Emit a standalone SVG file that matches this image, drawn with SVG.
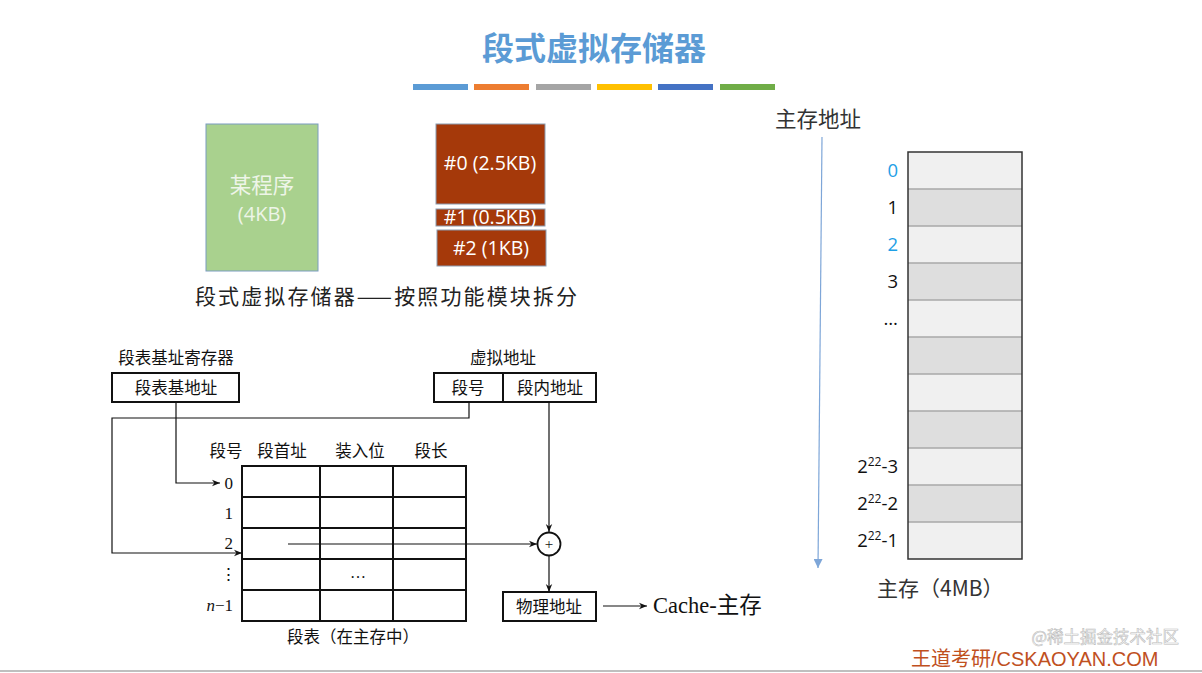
<svg xmlns="http://www.w3.org/2000/svg" width="1202" height="673" viewBox="0 0 1202 673">
<defs>
<style>
.cjk{font-family:"Noto Sans CJK SC","Noto Sans",sans-serif;}
.ser{font-family:"Liberation Serif","Noto Sans CJK SC",serif;}
.lbl{font-family:"Open Sans","Noto Sans CJK SC",sans-serif;font-size:18.5px;fill:#111;}
.b{fill:#fff;stroke:#111;stroke-width:2;}
.tl{stroke:#111;stroke-width:2;fill:none;}
.ln{stroke:#111;stroke-width:1.2;fill:none;}
.t15{font-size:16.5px;fill:#111;}
.seg{fill:#A5390A;stroke:#8a9bb0;stroke-width:1;}
.segt{font-family:"Open Sans","Noto Sans",sans-serif;font-size:19.5px;fill:#fff;text-anchor:middle;}
</style>
<marker id="ah" viewBox="0 0 10 10" refX="10" refY="5" markerWidth="10" markerHeight="8" orient="auto" markerUnits="userSpaceOnUse">
<path d="M0,1 L10,5 L0,9 L3,5 z" fill="#111"/>
</marker>
<marker id="ahb" viewBox="0 0 10 10" refX="10" refY="5" markerWidth="10" markerHeight="9" orient="auto" markerUnits="userSpaceOnUse">
<path d="M0,0 L10,5 L0,10 z" fill="#7ea6d8"/>
</marker>
</defs>
<rect width="1202" height="673" fill="#fff"/>

<g id="title">
<text x="594" y="60" class="cjk" font-size="32" font-weight="bold" fill="#5B9BD5" text-anchor="middle">段式虚拟存储器</text>
<rect x="413" y="84" width="55" height="6" fill="#5B9BD5"/>
<rect x="474" y="84" width="55" height="6" fill="#ED7D31"/>
<rect x="536" y="84" width="55" height="6" fill="#A5A5A5"/>
<rect x="597" y="84" width="55" height="6" fill="#FFC000"/>
<rect x="658" y="84" width="55" height="6" fill="#4472C4"/>
<rect x="720" y="84" width="55" height="6" fill="#70AD47"/>
</g>

<g id="program">
<rect x="206" y="124" width="112" height="147" fill="#A9D18E" stroke="#7a9cc0" stroke-width="1"/>
<text x="262" y="193" class="cjk" font-size="21.5" fill="#eef5e8" text-anchor="middle">某程序</text>
<text x="262" y="221" font-family="Open Sans,Noto Sans,sans-serif" font-size="20" fill="#eef5e8" text-anchor="middle">(4KB)</text>
</g>

<g id="seg0">
<rect x="436" y="124" width="109" height="80" class="seg"/>
<text x="490" y="170" class="segt">#0 (2.5KB)</text>
</g>
<g id="seg1">
<rect x="436" y="209" width="109" height="17" class="seg"/>
<text x="490" y="224" class="segt">#1 (0.5KB)</text>
</g>
<g id="seg2">
<rect x="437" y="230" width="109" height="36" class="seg"/>
<text x="491" y="255" class="segt">#2 (1KB)</text>
</g>
<text x="195" y="304" class="cjk" font-size="21" fill="#222" textLength="382" lengthAdjust="spacing">段式虚拟存储器——按照功能模块拆分</text>

<g id="seg-reg">
<text x="176" y="364" class="cjk t15" text-anchor="middle">段表基址寄存器</text>
<rect x="112" y="373" width="127" height="29" class="b"/>
<text x="176" y="394" class="cjk t15" text-anchor="middle">段表基地址</text>
</g>

<g id="vaddr">
<text x="503" y="364" class="cjk t15" text-anchor="middle">虚拟地址</text>
<rect x="434" y="373" width="162" height="29" class="b"/>
<line x1="503" y1="373" x2="503" y2="402" class="tl"/>
<text x="468" y="394" class="cjk t15" text-anchor="middle">段号</text>
<text x="550" y="394" class="cjk t15" text-anchor="middle">段内地址</text>
</g>

<g id="seg-table">
<text x="226" y="457" class="cjk t15" text-anchor="middle">段号</text>
<text x="282" y="457" class="cjk t15" text-anchor="middle">段首址</text>
<text x="360" y="457" class="cjk t15" text-anchor="middle">装入位</text>
<text x="431" y="457" class="cjk t15" text-anchor="middle">段长</text>
<rect x="242" y="466" width="224" height="155" class="tl"/>
<line x1="320" y1="466" x2="320" y2="621" class="tl"/>
<line x1="393" y1="466" x2="393" y2="621" class="tl"/>
<line x1="242" y1="497" x2="466" y2="497" class="tl"/>
<line x1="242" y1="528" x2="466" y2="528" class="tl"/>
<line x1="242" y1="559" x2="466" y2="559" class="tl"/>
<line x1="242" y1="590" x2="466" y2="590" class="tl"/>
<text x="233" y="489" class="ser" font-size="17" fill="#111" text-anchor="end">0</text>
<text x="233" y="519" class="ser" font-size="17" fill="#111" text-anchor="end">1</text>
<text x="233" y="549" class="ser" font-size="17" fill="#111" text-anchor="end">2</text>
<text x="228" y="580" class="ser" font-size="17" fill="#111" text-anchor="middle">⋮</text>
<text x="233" y="611" class="ser" font-size="17" fill="#111" text-anchor="end"><tspan font-style="italic">n</tspan>−1</text>
<text x="358" y="578" class="ser" font-size="16" fill="#111" text-anchor="middle">…</text>
<text x="353" y="643" class="cjk t15" text-anchor="middle">段表（在主存中）</text>
</g>

<g id="adder">
<circle cx="549" cy="544" r="11.5" fill="#fff" stroke="#111" stroke-width="1.8"/>
<text x="549" y="549" class="ser" font-size="15" fill="#111" text-anchor="middle">+</text>
</g>

<g id="paddr">
<rect x="503" y="592" width="93" height="29" class="b"/>
<text x="549" y="613" class="cjk t15" text-anchor="middle">物理地址</text>
</g>
<text x="653" y="613" class="ser" font-size="22.5" fill="#111">Cache-主存</text>

<g id="connectors">
<polyline points="176,402 176,483 220,483" class="ln" marker-end="url(#ah)"/>
<polyline points="469,402 469,418 112,418 112,553 242,553" class="ln" marker-end="url(#ah)"/>
<line x1="288" y1="544" x2="537" y2="544" class="ln" marker-end="url(#ah)"/>
<line x1="549" y1="402" x2="549" y2="532" class="ln" marker-end="url(#ah)"/>
<line x1="549" y1="556" x2="549" y2="592" class="ln" marker-end="url(#ah)"/>
<line x1="603" y1="606" x2="647" y2="606" class="ln" marker-end="url(#ah)"/>
<line x1="822" y1="137" x2="818" y2="568" stroke="#7ea6d8" stroke-width="1.2" marker-end="url(#ahb)"/>
</g>

<g id="memory">
<text x="775" y="127" class="cjk" font-size="21.5" fill="#333">主存地址</text>
<rect x="908" y="152" width="114" height="37" fill="#f0f0f0"/>
<rect x="908" y="189" width="114" height="37" fill="#dedede"/>
<rect x="908" y="226" width="114" height="37" fill="#f0f0f0"/>
<rect x="908" y="263" width="114" height="37" fill="#dedede"/>
<rect x="908" y="300" width="114" height="37" fill="#f0f0f0"/>
<rect x="908" y="337" width="114" height="37" fill="#dedede"/>
<rect x="908" y="374" width="114" height="37" fill="#f0f0f0"/>
<rect x="908" y="411" width="114" height="37" fill="#dedede"/>
<rect x="908" y="448" width="114" height="37" fill="#f0f0f0"/>
<rect x="908" y="485" width="114" height="37" fill="#dedede"/>
<rect x="908" y="522" width="114" height="37" fill="#f0f0f0"/>
<g stroke="#a8a8a8" stroke-width="1.5">
<line x1="908" y1="189" x2="1022" y2="189"/>
<line x1="908" y1="226" x2="1022" y2="226"/>
<line x1="908" y1="263" x2="1022" y2="263"/>
<line x1="908" y1="300" x2="1022" y2="300"/>
<line x1="908" y1="337" x2="1022" y2="337"/>
<line x1="908" y1="374" x2="1022" y2="374"/>
<line x1="908" y1="411" x2="1022" y2="411"/>
<line x1="908" y1="448" x2="1022" y2="448"/>
<line x1="908" y1="485" x2="1022" y2="485"/>
<line x1="908" y1="522" x2="1022" y2="522"/>
</g>
<rect x="908" y="152" width="114" height="407" fill="none" stroke="#333" stroke-width="1.5"/>
<text x="898" y="177" class="lbl" text-anchor="end" style="fill:#1ea0e6">0</text>
<text x="898" y="214" class="lbl" text-anchor="end">1</text>
<text x="898" y="251" class="lbl" text-anchor="end" style="fill:#1ea0e6">2</text>
<text x="898" y="288" class="lbl" text-anchor="end">3</text>
<text x="898" y="325" class="lbl" text-anchor="end">…</text>
<text x="898" y="473" class="lbl" text-anchor="end">2<tspan font-size="12" dy="-7">22</tspan><tspan dy="7">-3</tspan></text>
<text x="898" y="510" class="lbl" text-anchor="end">2<tspan font-size="12" dy="-7">22</tspan><tspan dy="7">-2</tspan></text>
<text x="898" y="547" class="lbl" text-anchor="end">2<tspan font-size="12" dy="-7">22</tspan><tspan dy="7">-1</tspan></text>
<text x="877" y="596" class="cjk" font-size="21" fill="#333">主存（4MB）</text>
</g>

<g id="footer">
<text x="1179" y="643" class="cjk" font-size="16.5" fill="#fff" stroke="#bbb" stroke-width="0.6" text-anchor="end">@稀土掘金技术社区</text>
<text x="911" y="666" font-family="Liberation Sans,Noto Sans CJK SC,sans-serif" font-size="20" fill="#C0501E">王道考研/CSKAOYAN.COM</text>
<line x1="0" y1="671" x2="1202" y2="671" stroke="#aaa" stroke-width="1.5"/>
</g>
</svg>
